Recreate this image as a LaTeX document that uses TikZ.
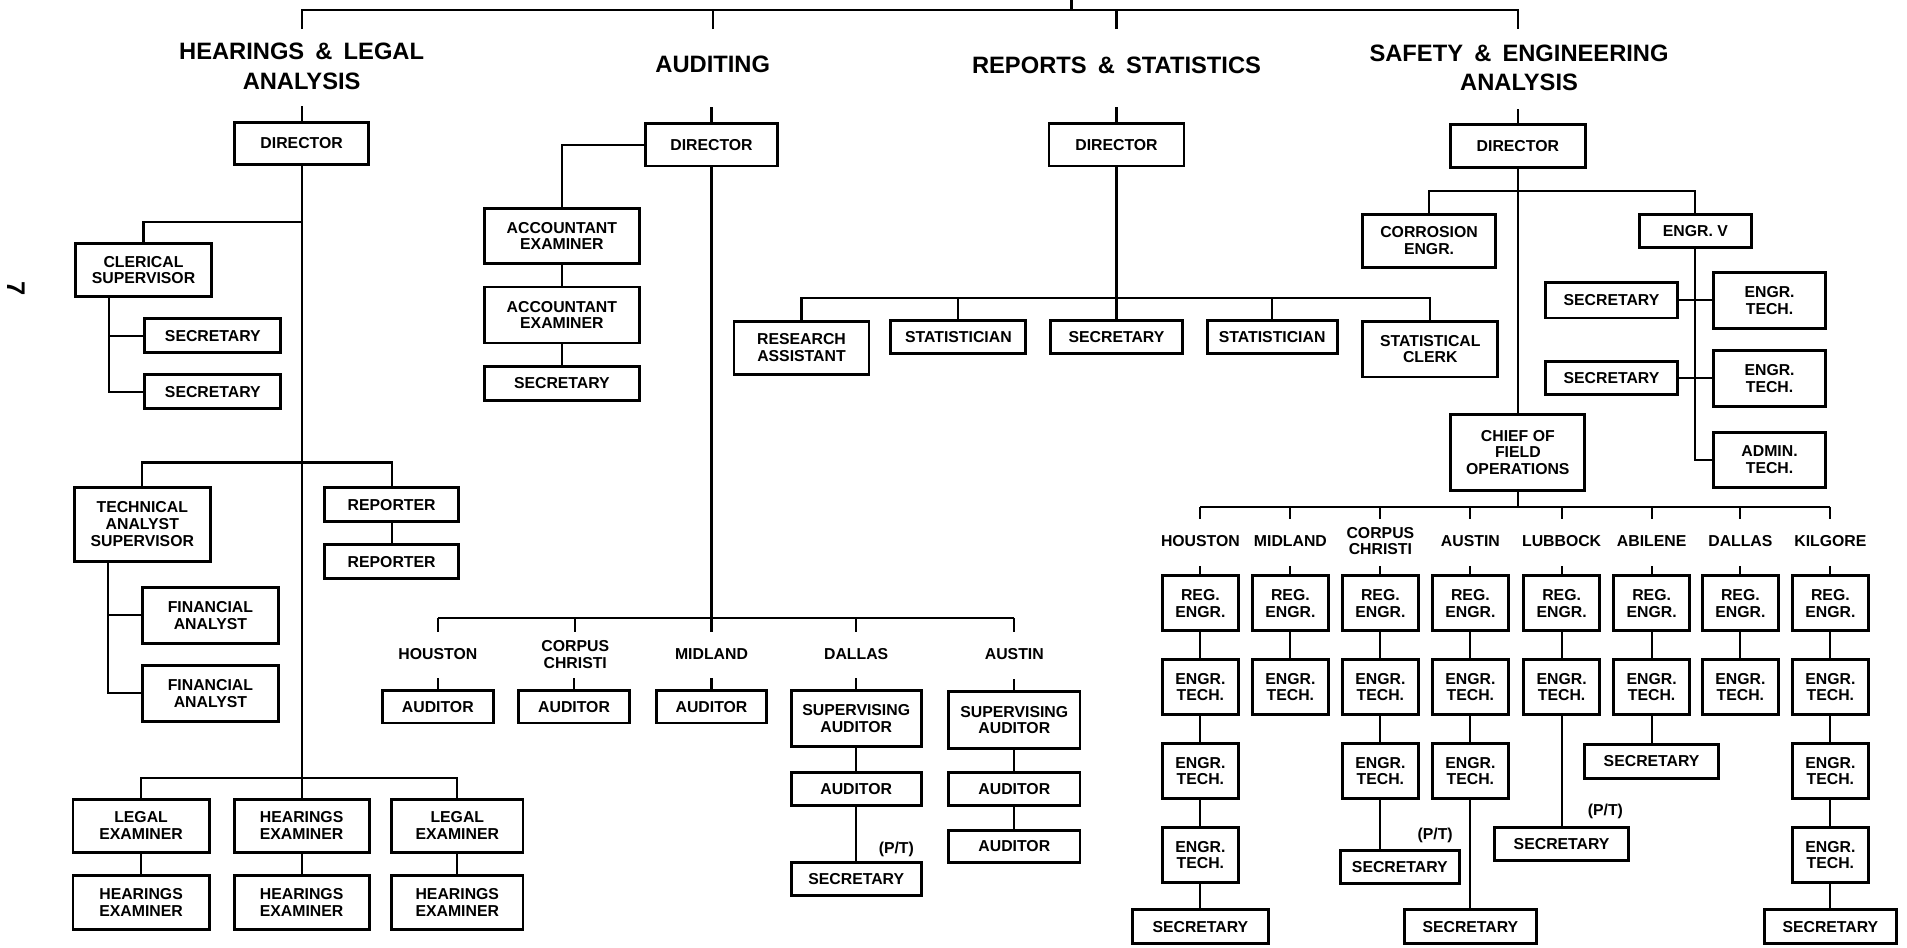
\documentclass[tikz,border=0pt]{standalone}
\usepackage{fontspec}
\setmainfont{Liberation Sans}
\newcommand{\boxfont}{\fontsize{13}{13.7}\selectfont\bfseries}
\newcommand{\headfont}{\fontsize{19.5}{24}\selectfont\bfseries\spaceskip=0.47em\relax}
\tikzset{
  box/.style 2 args={draw, line width=2.4pt, minimum width=#1, minimum height=#2,
    inner sep=0pt, align=center, font=\boxfont},
  city/.style={inner sep=0pt, align=center, font=\boxfont},
  head/.style={inner sep=0pt, align=center, font=\headfont},
  pt/.style={inner sep=0pt, font=\boxfont},
}
\begin{document}
\begin{tikzpicture}[x=1pt, y=-1pt, line width=1.7pt]
        \useasboundingbox (0,0) rectangle (1568,779);
        % 页码
        \node[rotate=-90, font=\fontsize{21}{21}\selectfont\bfseries] (pageNo) at (13,237) {7};
        % 顶部横线
        \coordinate (top) at (881,0);
        \coordinate (bar) at (881,8);
        \coordinate (hlTop) at (248,24);
        \coordinate (audTop) at (586,24);
        \coordinate (rsTop) at (918,24);
        \coordinate (seTop) at (1248,24);
        \draw (top) -- (bar);
        \draw (hlTop) |- (bar) -| (seTop);
        \draw (audTop) -- (audTop |- bar);
        \draw (rsTop) -- (rsTop |- bar);
        % 各部门标题
        \node[head] (hlHead) at (248,54.5) {HEARINGS \& LEGAL\\ANALYSIS};
        \node[head] (audHead) at (586,53) {AUDITING};
        \node[head] (rsHead) at (918,54) {REPORTS \& STATISTICS};
        \node[head] (seHead) at (1249,56) {SAFETY \& ENGINEERING\\ANALYSIS};
        % 主任
        \node[box={110pt}{35pt}] (hlDir) at (248,118) {DIRECTOR};
        \node[box={108pt}{35pt}] (audDir) at (585,119) {DIRECTOR};
        \node[box={111pt}{35pt}] (rsDir) at (918,119) {DIRECTOR};
        \node[box={111pt}{35pt}] (seDir) at (1248,120) {DIRECTOR};
        \foreach \nd in {hlDir,audDir,rsDir,seDir} \draw (\nd.north) -- ++(0,-12);

        % 听证与法律分析
        \node[box={112pt}{44pt}] (hlClerk) at (118,222) {CLERICAL\\SUPERVISOR};
        \node[box={112pt}{28pt}] (hlSec1) at (175,276) {SECRETARY};
        \node[box={112pt}{28pt}] (hlSec2) at (175,322) {SECRETARY};
        \node[box={112pt}{61pt}] (hlTech) at (117,431) {TECHNICAL\\ANALYST\\SUPERVISOR};
        \node[box={110pt}{28pt}] (hlRep1) at (322,415) {REPORTER};
        \node[box={110pt}{28pt}] (hlRep2) at (322,462) {REPORTER};
        \node[box={112pt}{46pt}] (hlFin1) at (173,506) {FINANCIAL\\ANALYST};
        \node[box={112pt}{46pt}] (hlFin2) at (173,570) {FINANCIAL\\ANALYST};
        \node[box={112pt}{44pt}] (hlLeg1) at (116,679) {LEGAL\\EXAMINER};
        \node[box={111pt}{44pt}] (hlHear) at (248,679) {HEARINGS\\EXAMINER};
        \node[box={108pt}{44pt}] (hlLeg2) at (376,679) {LEGAL\\EXAMINER};
        \node[box={112pt}{45pt}] (hlHear1) at (116,742) {HEARINGS\\EXAMINER};
        \node[box={111pt}{45pt}] (hlHear2) at (248,742) {HEARINGS\\EXAMINER};
        \node[box={108pt}{45pt}] (hlHear3) at (376,742) {HEARINGS\\EXAMINER};
        \draw (hlDir.south) -- (hlHear.north);
        \draw (hlClerk.north) -- ++(0,-16) -| (hlDir.south);
        \draw ([xshift=-28pt]hlClerk.south) |- (hlSec1.west);
        \draw ([xshift=-28pt]hlClerk.south) |- (hlSec2.west);
        \draw (hlTech.north) -- ++(0,-19) -| (hlRep1.north);
        \draw (hlRep1) -- (hlRep2);
        \draw ([xshift=-28pt]hlTech.south) |- (hlFin1.west);
        \draw ([xshift=-28pt]hlTech.south) |- (hlFin2.west);
        \draw (hlLeg1.north) -- ++(0,-16) -| (hlLeg2.north);
        \draw (hlLeg1) -- (hlHear1);
        \draw (hlHear) -- (hlHear2);
        \draw (hlLeg2) -- (hlHear3);

        % 审计
        \node[box={128pt}{45pt}] (audAcc1) at (462,194) {ACCOUNTANT\\EXAMINER};
        \node[box={128pt}{46pt}] (audAcc2) at (462,259) {ACCOUNTANT\\EXAMINER};
        \node[box={128pt}{28pt}] (audSec) at (462,315) {SECRETARY};
        \draw (audDir.west) -| (audAcc1.north);
        \draw (audAcc1) -- (audAcc2) -- (audSec);
        \coordinate (audBar) at (585,508);
        \draw (audDir.south) -- (audBar);
        \node[city] (audHou) at (360,538) {HOUSTON};
        \node[city] (audCC) at (473,538) {CORPUS\\CHRISTI};
        \node[city] (audMid) at (585,538) {MIDLAND};
        \node[city] (audDal) at (704,538) {DALLAS};
        \node[city] (audAus) at (834,538) {AUSTIN};
        \draw (audHou |- audBar) -- (audAus |- audBar);
        \foreach \nd in {audHou,audCC,audMid,audDal,audAus} \draw (\nd |- audBar) -- ++(0,12);
        \node[box={91pt}{27pt}] (audHouAud) at (360,581) {AUDITOR};
        \node[box={91pt}{27pt}] (audCCAud) at (472,581) {AUDITOR};
        \node[box={91pt}{27pt}] (audMidAud) at (585,581) {AUDITOR};
        \node[box={107pt}{46pt}] (audDalSup) at (704,591) {SUPERVISING\\AUDITOR};
        \node[box={107pt}{27pt}] (audDalAud) at (704,649) {AUDITOR};
        \node[box={107pt}{27pt}] (audDalSec) at (704,723) {SECRETARY};
        \node[pt] (audPT) at (737,698) {(P/T)};
        \node[box={108pt}{47pt}] (audAusSup) at (834,592) {SUPERVISING\\AUDITOR};
        \node[box={108pt}{27pt}] (audAusAud1) at (834,649) {AUDITOR};
        \node[box={108pt}{27pt}] (audAusAud2) at (834,696) {AUDITOR};
        \foreach \nd in {audHouAud,audCCAud,audMidAud,audDalSup,audAusSup} \draw (\nd.north) -- ++(0,-9);
        \draw (audDalSup) -- (audDalAud) -- (audDalSec);
        \draw (audAusSup) -- (audAusAud1) -- (audAusAud2);

        % 报告与统计
        \node[box={111pt}{44pt}] (rsRes) at (659,286) {RESEARCH\\ASSISTANT};
        \node[box={111pt}{27pt}] (rsStat1) at (788,277) {STATISTICIAN};
        \node[box={109pt}{27pt}] (rsSec) at (918,277) {SECRETARY};
        \node[box={107pt}{27pt}] (rsStat2) at (1046,277) {STATISTICIAN};
        \node[box={111pt}{46pt}] (rsClerk) at (1176,287) {STATISTICAL\\CLERK};
        \draw (rsRes.north) -- ++(0,-18) -| (rsClerk.north);
        \draw (rsStat1.north) -- ++(0,-18);
        \draw (rsStat2.north) -- ++(0,-18);
        \draw (rsDir) -- (rsSec);

        % 安全与工程分析
        \node[box={109pt}{44pt}] (seCorr) at (1175,198) {CORROSION\\ENGR.};
        \node[box={92pt}{27pt}] (seEngV) at (1394,190) {ENGR. V};
        \draw (seCorr.north) -- ++(0,-18) -| (seEngV.north);
        \node[box={108pt}{29pt}] (seSec1) at (1325,247) {SECRETARY};
        \node[box={92pt}{46pt}] (seTech1) at (1455,247) {ENGR.\\TECH.};
        \node[box={108pt}{27pt}] (seSec2) at (1325,311) {SECRETARY};
        \node[box={92pt}{46pt}] (seTech2) at (1455,311) {ENGR.\\TECH.};
        \node[box={92pt}{45pt}] (seAdm) at (1455,378) {ADMIN.\\TECH.};
        \draw (seEngV.south) |- (seAdm.west);
        \draw (seSec1) -- (seTech1);
        \draw (seSec2) -- (seTech2);
        \node[box={110pt}{63pt}] (seChief) at (1248,372) {CHIEF OF\\FIELD\\OPERATIONS};
        \draw (seDir) -- (seChief);

        % 现场作业
        \coordinate (foBar) at (1248,417);
        \draw (seChief.south) -- (foBar);
        \foreach \col/\x/\name in {hou/987/HOUSTON, mid/1061/MIDLAND, cc/1135/{CORPUS\\CHRISTI},
            aus/1209/AUSTIN, lub/1284/LUBBOCK, abi/1358/ABILENE, dal/1431/DALLAS, kil/1505/KILGORE} {
          \node[city] (\col Lbl) at (\x,445) {\name};
          \node[box={63pt}{45pt}] (\col Reg) at (\x,496) {REG.\\ENGR.};
          \node[box={63pt}{45pt}] (\col T1) at (\x,565) {ENGR.\\TECH.};
          \draw (\col Lbl |- foBar) -- ++(0,10);
          \draw (\col Reg.north) -- ++(0,-7);
          \draw (\col Reg) -- (\col T1);
        }
        \draw (houLbl |- foBar) -- (kilLbl |- foBar);
        \node[box={63pt}{45pt}] (houT2) at (987,634) {ENGR.\\TECH.};
        \node[box={63pt}{45pt}] (houT3) at (987,703) {ENGR.\\TECH.};
        \node[box={112pt}{28pt}] (houSec) at (987,762) {SECRETARY};
        \node[box={63pt}{45pt}] (ccT2) at (1135,634) {ENGR.\\TECH.};
        \node[box={98pt}{27pt}] (ccSec) at (1151,713) {SECRETARY};
        \node[pt] (ccPT) at (1180,687) {(P/T)};
        \node[box={63pt}{45pt}] (ausT2) at (1209,634) {ENGR.\\TECH.};
        \node[box={109pt}{28pt}] (ausSec) at (1209,762) {SECRETARY};
        \node[box={110pt}{27pt}] (lubSec) at (1284,694) {SECRETARY};
        \node[pt] (lubPT) at (1320,667) {(P/T)};
        \node[box={110pt}{28pt}] (abiSec) at (1358,626) {SECRETARY};
        \node[box={63pt}{45pt}] (kilT2) at (1505,634) {ENGR.\\TECH.};
        \node[box={63pt}{45pt}] (kilT3) at (1505,703) {ENGR.\\TECH.};
        \node[box={109pt}{28pt}] (kilSec) at (1505,762) {SECRETARY};
        \draw (houT1) -- (houT2) -- (houT3) -- (houSec);
        \draw (ccT1) -- (ccT2);
        \draw (ccT2.south) -- (ccT2.south |- ccSec.north);
        \draw (ausT1) -- (ausT2) -- (ausSec);
        \draw (lubT1) -- (lubSec);
        \draw (abiT1) -- (abiSec);
        \draw (kilT1) -- (kilT2) -- (kilT3) -- (kilSec);
\end{tikzpicture}
\end{document}
